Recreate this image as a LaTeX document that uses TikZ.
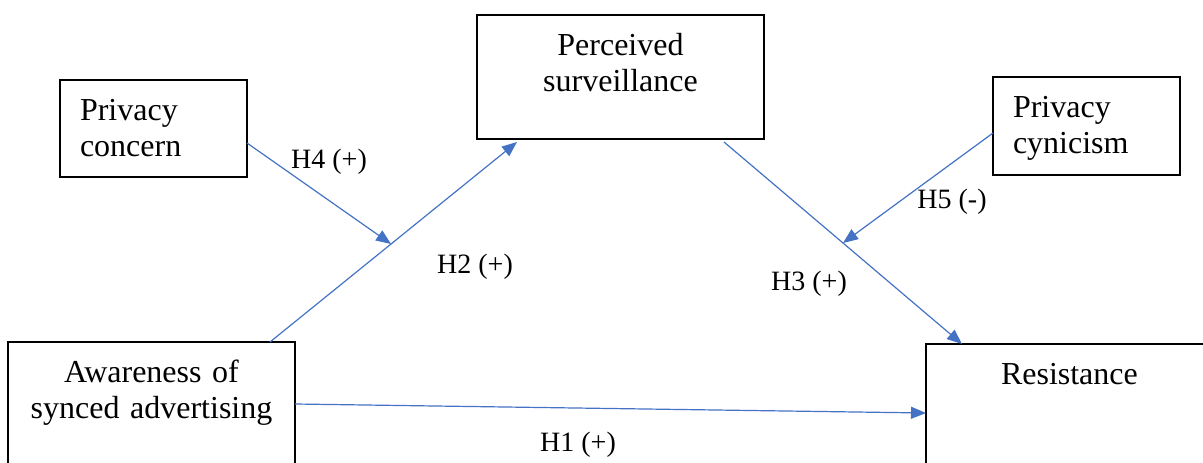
\documentclass[tikz,border=0pt]{standalone}
\usepackage{fontspec}
\setmainfont{Liberation Serif}
\usepackage{tikz}
\usetikzlibrary{arrows.meta}
\usetikzlibrary{calc}
\definecolor{arrowblue}{HTML}{4472C4}
\tikzstyle{block} = [rectangle, draw=black, line width=1.3pt, anchor=north west,
    outer sep=0pt, inner xsep=10pt, inner ysep=0pt, text height=40pt,
    font=\fontsize{32}{36}\selectfont]
\tikzstyle{line} = [draw=arrowblue, line width=1.2pt, -{Triangle[length=15pt,width=12pt]}]
\tikzstyle{hyp} = [anchor=base, inner sep=0pt, font=\fontsize{28}{32}\selectfont]

\begin{document}
\begin{tikzpicture}[x=1pt,y=-1pt]
\useasboundingbox (0,0) rectangle (1203,463);
\clip (0,0) rectangle (1203,463);

% Define blocks
\node [block, inner xsep=20pt, text width=147pt, text depth=57pt, align=left] (concern) at (60,80) {Privacy\\concern};
\node [block, text width=267pt, text depth=84pt, align=center] (surveil) at (477,15) {Perceived\\surveillance};
\node [block, inner xsep=20pt, text width=147pt, text depth=58pt, align=left] (cynic) at (993,77) {Privacy\\cynicism};
\node [block, text width=267pt, text depth=108pt, align=center] (aware) at (8,342) {Awareness of\\synced advertising};
\node [block, inner xsep=75pt, text width=300pt, text depth=106pt, align=left] (resist) at (926,344) {Resistance};

\draw[line] ($(aware.north east)+(-25,0)$) -- coordinate[pos=.49] (mid2) ($(surveil.south west)+(40,3)$);
\draw[line] ($(concern.south east)+(0,-34)$) -- (mid2);
\draw[line] ($(surveil.south east)+(-40,3)$) -- coordinate[pos=.5] (mid3) ($(resist.north west)+(36,0)$);
\draw[line] ($(cynic.west)+(0,7)$) -- (mid3);
\draw[line] ($(aware.north east)+(0,62)$) -- ($(resist.north west)+(0,69)$);

\node [hyp] (h1) at (578,451) {H1 (+)};
\node [hyp] (h2) at (475,273) {H2 (+)};
\node [hyp] (h3) at (809,290) {H3 (+)};
\node [hyp] (h4) at (329,168) {H4 (+)};
\node [hyp] (h5) at (952,208) {H5 (-)};

\end{tikzpicture}
\end{document}
